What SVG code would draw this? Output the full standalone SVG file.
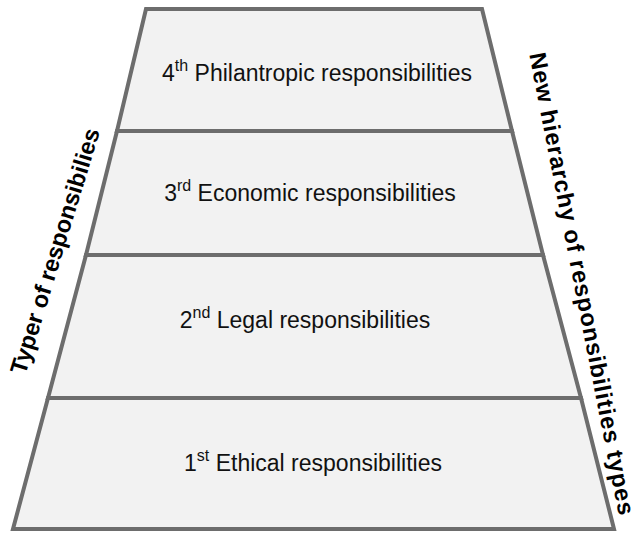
<svg xmlns="http://www.w3.org/2000/svg" width="639" height="533" viewBox="0 0 639 533">
<style>
.band{fill:#f2f2f2;stroke:#6d6d6d;stroke-width:4;stroke-linejoin:miter}
.lbl{font-family:"Liberation Sans",Arial,sans-serif;font-size:23px;fill:#111;text-anchor:middle}
.side{font-family:"Liberation Sans",Arial,sans-serif;font-size:23.5px;font-weight:bold;fill:#000;text-anchor:middle;dominant-baseline:central}
.sup{font-size:16px}
</style>
<rect width="639" height="533" fill="#fff"/>
<g id="band4">
<polygon class="band" points="146,9 482,9 512,131 117,131"/>
<text class="lbl" x="317" y="81">4<tspan class="sup" dy="-10">th</tspan><tspan dy="10"> Philantropic responsibilities</tspan></text>
</g>
<g id="band3">
<polygon class="band" points="117,131 512,131 543,255 86,255"/>
<text class="lbl" x="310" y="201">3<tspan class="sup" dy="-10">rd</tspan><tspan dy="10"> Economic responsibilities</tspan></text>
</g>
<g id="band2">
<polygon class="band" points="86,255 543,255 581,398 48,398"/>
<text class="lbl" x="305" y="328">2<tspan class="sup" dy="-10">nd</tspan><tspan dy="10"> Legal responsibilities</tspan></text>
</g>
<g id="band1">
<polygon class="band" points="48,398 581,398 614,529 13,529"/>
<text class="lbl" x="313" y="471">1<tspan class="sup" dy="-10">st</tspan><tspan dy="10"> Ethical responsibilities</tspan></text>
</g>
<g id="left-label">
<text class="side" transform="translate(55,251) rotate(-73)">Typer of responsibilies</text>
</g>
<g id="right-label">
<text class="side" style="font-size:23.5px;letter-spacing:0.9px" transform="translate(582,284) rotate(79)">New hierarchy of responsibilities types</text>
</g>
</svg>
